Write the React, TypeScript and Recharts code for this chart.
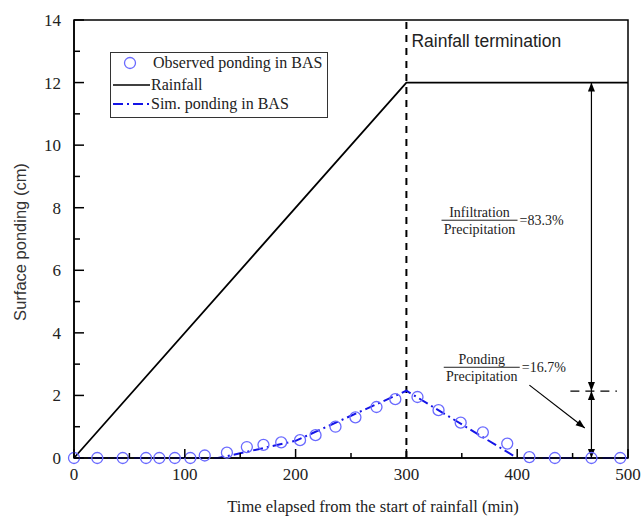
import {
  ComposedChart,
  Line,
  Scatter,
  XAxis,
  YAxis,
  Legend,
  ReferenceLine,
  ReferenceArea,
  ReferenceDot,
} from 'recharts';

// Observed ponding in BAS (circles)
const obsTime = [0, 21, 44, 65, 77, 91, 105, 118, 138, 156, 171, 187, 204, 218, 236, 254, 273, 290, 310, 329, 349, 369, 391, 411, 434, 467, 493];
const obsPonding = [0, 0, 0, 0, 0, 0, 0, 0.08, 0.17, 0.35, 0.42, 0.5, 0.57, 0.73, 1.0, 1.3, 1.63, 1.88, 1.95, 1.53, 1.13, 0.82, 0.46, 0.03, 0, 0, 0];

// Simulated ponding (dash-dot)
const simTime = [0, 130, 150, 200, 250, 300, 400, 500];
const simPonding = [0, 0, 0.15, 0.55, 1.35, 2.15, 0, 0];

// Cumulative rainfall
const rainTime = [0, 300, 500];
const rainDepth = [0, 12, 12];

const xTicks = [0, 50, 100, 150, 200, 250, 300, 350, 400, 450, 500];
const yTicks = [0, 1, 2, 3, 4, 5, 6, 7, 8, 9, 10, 11, 12, 13, 14];

const obsData = obsTime.map((t, i) => ({ t, v: obsPonding[i] }));
const simData = simTime.map((t, i) => ({ t, v: simPonding[i] }));
const rainData = rainTime.map((t, i) => ({ t, v: rainDepth[i] }));

const SERIF = '"Liberation Serif", "Times New Roman", serif';
const SANS = '"Liberation Sans", Arial, sans-serif';
const SIM_COLOR = '#1414e6';
const OBS_COLOR = '#6a6aff';
const SIM_DASH = '10 4 2 4';

// ticks point into the plot
const XTick = (props: any) => {
  const { x, y, payload } = props;
  const major = payload.value % 100 === 0;
  return (
    <g>
      <line x1={x} x2={x} y1={y} y2={y - (major ? 9 : 5)} stroke="#000" strokeWidth={1.5} />
      {major && (
        <text x={x} y={y + 22} textAnchor="middle" fontSize={17} fontFamily={SERIF} fill="#222">
          {payload.value}
        </text>
      )}
    </g>
  );
};

const YTick = (props: any) => {
  const { x, y, payload } = props;
  const major = payload.value % 2 === 0;
  return (
    <g>
      <line x1={x} x2={x + (major ? 10 : 6)} y1={y} y2={y} stroke="#000" strokeWidth={1.5} />
      {major && (
        <text x={x - 13} y={y + 6} textAnchor="end" fontSize={17} fontFamily={SERIF} fill="#222">
          {payload.value}
        </text>
      )}
    </g>
  );
};

// line with optional filled arrow heads
const arrowShape = (start: boolean, end: boolean, dash?: string) => (props: any) => {
  const { x1, y1, x2, y2 } = props;
  const ang = Math.atan2(y2 - y1, x2 - x1);
  const head = (tx: number, ty: number, a: number) => {
    const len = 9;
    const w = 3.5;
    const bx = tx - len * Math.cos(a);
    const by = ty - len * Math.sin(a);
    const px = -Math.sin(a) * w;
    const py = Math.cos(a) * w;
    return <polygon points={`${tx},${ty} ${bx + px},${by + py} ${bx - px},${by - py}`} fill="#000" />;
  };
  return (
    <g>
      <line x1={x1} y1={y1} x2={x2} y2={y2} stroke="#000" strokeWidth={1.2} strokeDasharray={dash} />
      {start && head(x1, y1, ang + Math.PI)}
      {end && head(x2, y2, ang)}
    </g>
  );
};

const fraction = (top: string, value: string) => (props: any) => {
  const { cx, cy } = props;
  return (
    <g fontFamily={SERIF} fontSize={14} fill="#222">
      <text x={cx} y={cy - 3} textAnchor="middle">{top}</text>
      <line x1={cx - 38} x2={cx + 38} y1={cy} y2={cy} stroke="#222" strokeWidth={1} />
      <text x={cx} y={cy + 14} textAnchor="middle">Precipitation</text>
      <text x={cx + 40} y={cy + 5} textAnchor="start">{value}</text>
    </g>
  );
};

const LegendBox = () => (
  <svg width={218} height={66} style={{ display: 'block' }}>
    <rect x={0.5} y={0.5} width={217} height={65} fill="#fff" stroke="#333" strokeWidth={1} />
    <circle cx={20} cy={11} r={5.5} fill="none" stroke={OBS_COLOR} strokeWidth={1.3} />
    <text x={43} y={16} fontSize={16} fontFamily={SERIF} fill="#222">Observed ponding in BAS</text>
    <line x1={3} x2={40} y1={33} y2={33} stroke="#000" strokeWidth={1.5} />
    <text x={41} y={38} fontSize={16} fontFamily={SERIF} fill="#222">Rainfall</text>
    <line x1={3} x2={40} y1={52} y2={52} stroke={SIM_COLOR} strokeWidth={2} strokeDasharray={SIM_DASH} />
    <text x={41} y={57} fontSize={16} fontFamily={SERIF} fill="#222">Sim. ponding in BAS</text>
  </svg>
);

export default function App() {
  return (
    <div>
      <style>{'body{margin:0;background:#fff}'}</style>
      <ComposedChart width={643} height={520} margin={{ top: 20, right: 15, bottom: 0, left: 0 }}>
        <XAxis
          dataKey="t"
          type="number"
          domain={[0, 500]}
          ticks={xTicks}
          interval={0}
          height={62}
          tickSize={0}
          tickMargin={0}
          tick={XTick}
          axisLine={{ stroke: '#000', strokeWidth: 1.5 }}
          label={{
            content: (p: any) => (
              <text
                x={p.viewBox.x + p.viewBox.width / 2 + 22}
                y={p.viewBox.y + 54}
                textAnchor="middle"
                fontSize={16.5}
                fontFamily={SERIF}
                fill="#222"
              >
                Time elapsed from the start of rainfall (min)
              </text>
            ),
          }}
        />
        <YAxis
          type="number"
          domain={[0, 14]}
          ticks={yTicks}
          interval={0}
          width={74}
          tickSize={0}
          tickMargin={0}
          tick={YTick}
          axisLine={{ stroke: '#000', strokeWidth: 1.5 }}
          label={{
            content: (p: any) => {
              const cy = p.viewBox.y + p.viewBox.height / 2 + 3;
              return (
                <text
                  x={20}
                  y={cy}
                  transform={`rotate(-90 20 ${cy})`}
                  textAnchor="middle"
                  dominantBaseline="central"
                  fontSize={16.5}
                  fontFamily={SANS}
                  fill="#333"
                >
                  Surface ponding (cm)
                </text>
              );
            },
          }}
        />
        <Legend
          layout="vertical"
          align="center"
          verticalAlign="middle"
          wrapperStyle={{ left: 110, top: 52, width: 218, height: 66 }}
          content={() => <LegendBox />}
        />
        <ReferenceArea x1={0} x2={500} y1={0} y2={14} fill="none" stroke="#000" strokeWidth={1.5} />
        <ReferenceLine
          x={300}
          stroke="#000"
          strokeWidth={2}
          strokeDasharray="7 6"
          label={{
            content: (p: any) => (
              <text x={p.viewBox.x + 5} y={p.viewBox.y + 27} fontSize={17.5} fontFamily={SANS} fill="#222">
                Rainfall termination
              </text>
            ),
          }}
        />
        <Line
          data={rainData}
          dataKey="v"
          stroke="#000"
          strokeWidth={1.8}
          dot={false}
          isAnimationActive={false}
          legendType="none"
        />
        <Line
          data={simData}
          dataKey="v"
          stroke={SIM_COLOR}
          strokeWidth={2}
          strokeDasharray={SIM_DASH}
          dot={false}
          isAnimationActive={false}
          legendType="none"
        />
        <Scatter
          data={obsData}
          dataKey="v"
          isAnimationActive={false}
          legendType="none"
          shape={(p: any) => (
            <circle cx={p.cx} cy={p.cy} r={5.5} fill="none" stroke={OBS_COLOR} strokeWidth={1.3} />
          )}
        />
        <ReferenceLine
          segment={[{ x: 467, y: 12 }, { x: 467, y: 2.14 }]}
          shape={arrowShape(true, true)}
        />
        <ReferenceLine
          segment={[{ x: 467, y: 2.14 }, { x: 467, y: 0 }]}
          shape={arrowShape(true, true)}
        />
        <ReferenceLine
          segment={[{ x: 448, y: 2.14 }, { x: 490, y: 2.14 }]}
          shape={arrowShape(false, false, '9 6')}
        />
        <ReferenceLine
          segment={[{ x: 411, y: 2.33 }, { x: 461, y: 0.96 }]}
          shape={arrowShape(false, true)}
        />
        <ReferenceDot x={366} y={7.6} r={0} shape={fraction('Infiltration', '=83.3%')} />
        <ReferenceDot x={368} y={2.9} r={0} shape={fraction('Ponding', '=16.7%')} />
      </ComposedChart>
    </div>
  );
}
